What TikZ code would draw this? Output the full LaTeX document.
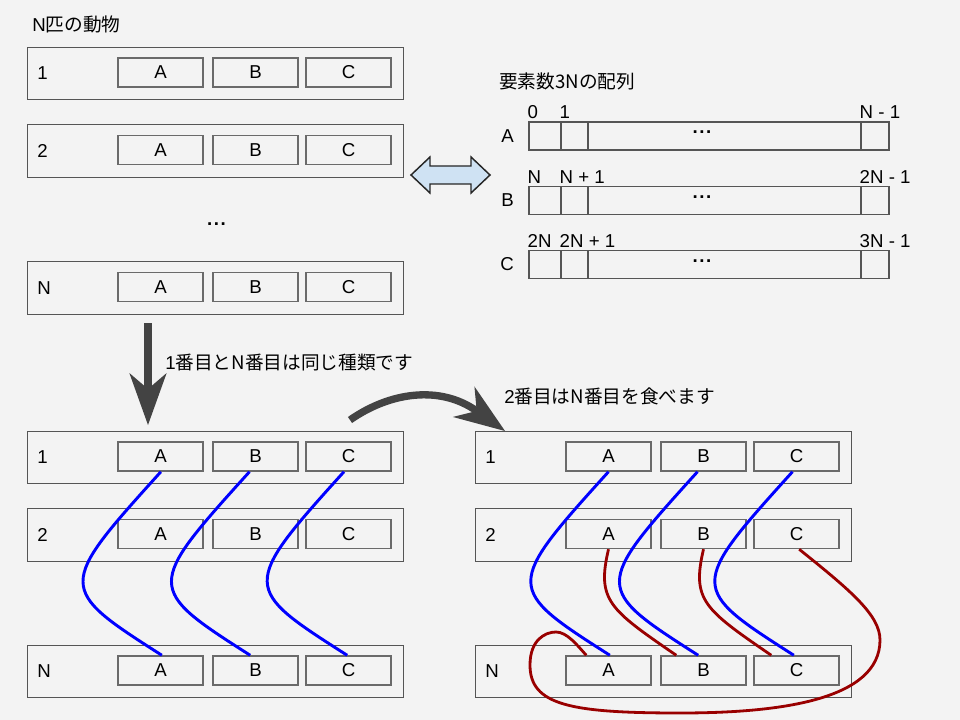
\documentclass[tikz,border=0pt]{standalone}
\usepackage{fontspec}
\setmainfont{Liberation Sans}
\newfontfamily\cjk{Noto Sans CJK JP}
\usetikzlibrary{arrows.meta}
\definecolor{bg}{HTML}{F3F3F3}
\definecolor{outerc}{HTML}{555555}
\definecolor{innerc}{HTML}{6A6A6A}
\definecolor{arrowc}{HTML}{434343}
\definecolor{dblfill}{HTML}{CFE2F3}
\definecolor{bluec}{HTML}{0000FF}
\definecolor{redc}{HTML}{990000}
\tikzset{
  rowbox/.style={draw=outerc, line width=0.75pt, minimum width=282pt, minimum height=39.4pt, inner sep=0pt},
  cellbox/.style={draw=innerc, line width=1.1pt, minimum width=63.75pt, minimum height=21.75pt, inner sep=0pt},
  rowlabel/.style={anchor=west, inner sep=0pt},
  arrcell/.style={draw=outerc, line width=0.8pt, minimum height=21pt, inner sep=0pt},
  idxlabel/.style={anchor=base west, inner sep=0pt},
  dotsn/.style={inner sep=0pt, font=\fontsize{14pt}{17pt}\selectfont\bfseries},
  jlabel/.style={anchor=west, inner sep=0pt},
  bluew/.style={draw=bluec, line width=2.2pt},
  redw/.style={draw=redc, line width=2.1pt},
  bigarr/.style={draw=arrowc, line width=6pt, -{Stealth[length=39pt, width=28pt, inset=12pt, line width=0pt]}},
  bigarrc/.style={draw=arrowc, line width=5.5pt, -{Stealth[length=38pt, width=28pt, inset=12pt, line width=0pt]}},
  dblarrow/.style={draw=black!85, line width=1.1pt, fill=dblfill, line join=miter}
}
\newcommand{\mkrow}[4]{%
  \node[rowbox] (#1) at ({#2+215},{#3}) {};
  \node[rowlabel] (#1n) at ({#2+37},{#3}) {#4};
  \node[cellbox] (#1A) at ({#2+160.5},{#3-1}) {A};
  \node[cellbox] (#1B) at ({#2+255.5},{#3-1}) {B};
  \node[cellbox] (#1C) at ({#2+348.5},{#3-1}) {C};
}
\newcommand{\mkarr}[6]{%
  \node[arrcell, minimum width=24pt] (#1a) at (545,#2) {};
  \node[arrcell, minimum width=20.25pt] (#1b) at (574.5,#2) {};
  \node[arrcell, minimum width=204.75pt] (#1c) at (724.5,#2) {};
  \node[arrcell, minimum width=21pt] (#1d) at (875,#2) {};
  \node[dotsn] (#1dots) at (702,{#2-3.5}) {.\hspace{1.2pt}.\hspace{1.2pt}.};
  \node[anchor=east, inner sep=0pt] (#1l) at (514,#2) {#3};
  \node[idxlabel] (#1i0) at ([xshift=-0.75pt, yshift=2pt]#1a.north west) {#4};
  \node[idxlabel] (#1i1) at ([xshift=-0.75pt, yshift=2pt]#1b.north west) {#5};
  \node[idxlabel] (#1i2) at ([xshift=-0.75pt, yshift=2pt]#1d.north west) {#6};
}
\begin{document}
\begin{tikzpicture}[x=0.75pt, y=-0.75pt, font=\fontsize{14pt}{17pt}\selectfont]
\fill[bg] (0,0) rectangle (960,720);
\useasboundingbox (0,0) rectangle (960,720);

% titles
\node[jlabel] (t1) at (32,24.5) {N{\cjk 匹の動物}};
\node[jlabel] (t2) at (499,81) {{\cjk 要素数3Nの配列}};

% top-left panel
\mkrow{L1}{0}{73.5}{1}
\mkrow{L2}{0}{151}{2}
\mkrow{LN}{0}{288}{N}
\node[dotsn] (ldots) at (216.5,224.5) {.\hspace{1.2pt}.\hspace{1.2pt}.};

% double arrow
\draw[dblarrow] (411,175) -- (430,157) -- (430,166) -- (471,166) -- (471,157) -- (490,175)
  -- (471,193) -- (471,184) -- (430,184) -- (430,193) -- cycle;

% arrays
\mkarr{xa}{136}{A}{0}{1}{N - 1}
\mkarr{xb}{200.5}{B}{N}{N + 1}{2N - 1}
\mkarr{xc}{264.5}{C}{2N}{2N + 1}{3N - 1}

% big arrows and their labels
\coordinate (ds) at (148,323);
\coordinate (de) at (148,425);
\draw[bigarr] (ds) -- (de);
\node[jlabel] (t3) at (165,363) {1{\cjk 番目とN番目は同じ種類です}};
\coordinate (cs) at (350,420);
\coordinate (ce) at (505,431);
\draw[bigarrc] (cs) .. controls (390,392) and (440,385) .. (ce);
\node[jlabel] (t4) at (504,396) {2{\cjk 番目はN番目を食べます}};

% bottom-left panel
\mkrow{M1}{0}{457.5}{1}
\mkrow{M2}{0}{535}{2}
\mkrow{MN}{0}{671.5}{N}
% bottom-right panel
\mkrow{R1}{448}{457.5}{1}
\mkrow{R2}{448}{535}{2}
\mkrow{RN}{448}{671.5}{N}

% blue curves (same kind)
\draw[bluew] ([xshift=0.3pt]M1A.south) .. controls +(-104,115) and +(-105,-67) .. ([xshift=1pt]MNA.north);
\draw[bluew] ([xshift=-4.5pt]M1B.south) .. controls +(-104,115) and +(-105,-67) .. ([xshift=-4pt]MNB.north);
\draw[bluew] ([xshift=-3.4pt]M1C.south) .. controls +(-104,115) and +(-105,-67) .. ([xshift=-1pt]MNC.north);
\draw[bluew] ([xshift=0pt]R1A.south) .. controls +(-104,115) and +(-105,-67) .. ([xshift=1pt]RNA.north);
\draw[bluew] ([xshift=-4.5pt]R1B.south) .. controls +(-104,115) and +(-105,-67) .. ([xshift=-4pt]RNB.north);
\draw[bluew] ([xshift=-3pt]R1C.south) .. controls +(-104,115) and +(-105,-67) .. ([xshift=-2pt]RNC.north);

% red curves (eats)
\draw[redw] (R2A.south) .. controls +(-12,51) and +(-67,-46) .. ([xshift=12pt]RNB.north west);
\draw[redw] (R2B.south) .. controls +(-12,51) and +(-67,-46) .. ([xshift=13.5pt]RNC.north west);
\draw[redw] ([xshift=2pt]R2C.south) .. controls +(51,41) and +(0,-25) .. (880,640)
  .. controls +(0,60) and +(100,0) .. (680,713)
  .. controls +(-110,0) and +(0,40) .. (530,665)
  .. controls +(0,-25) and +(-11,0) .. (556,632)
  .. controls +(11,0) and +(-9,-10) .. ([xshift=15.75pt]RNA.north west);
\end{tikzpicture}
\end{document}
